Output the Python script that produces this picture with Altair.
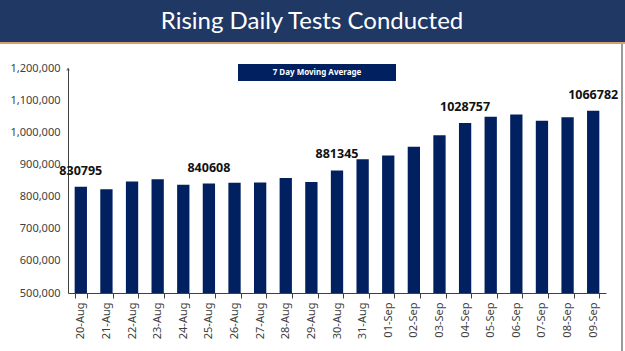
import altair as alt
import pandas as pd

dates = ["20-Aug", "21-Aug", "22-Aug", "23-Aug", "24-Aug", "25-Aug", "26-Aug",
         "27-Aug", "28-Aug", "29-Aug", "30-Aug", "31-Aug", "01-Sep", "02-Sep",
         "03-Sep", "04-Sep", "05-Sep", "06-Sep", "07-Sep", "08-Sep", "09-Sep"]
tests = [830795, 823000, 847000, 854000, 837000, 840608, 843000,
         844000, 858000, 845000, 881345, 916000, 928000, 955000,
         991000, 1028757, 1048000, 1055000, 1036000, 1047000, 1066782]
labelled = ["20-Aug", "25-Aug", "30-Aug", "04-Sep", "09-Sep"]
y_ticks = [500000, 600000, 700000, 800000, 900000, 1000000, 1100000, 1200000]

title_text = "Rising Daily Tests Conducted"
legend_text = "7 Day Moving Average"

df = pd.DataFrame({"date": dates, "tests": tests})
df["label"] = [str(v) if d in labelled else "" for d, v in zip(dates, tests)]

W, H = 538, 225
PL, PT = 68, 68

x = alt.X("date:N", sort=dates, title=None,
          scale=alt.Scale(paddingInner=0.52, paddingOuter=0.26),
          axis=alt.Axis(labelAngle=-90, labelFont="Noto Sans", labelFontSize=11,
                        labelColor="#404040", domainColor="#404040", tickColor="#404040",
                        tickBand="extent", tickSize=5, labelPadding=4, labelOverlap=False))
y = alt.Y("tests:Q", title=None,
          scale=alt.Scale(domain=[y_ticks[0], y_ticks[-1]], nice=False, zero=False),
          axis=alt.Axis(values=y_ticks, format=",d", grid=False, ticks=False,
                        labelFont="Noto Sans", labelOverlap=False,
                        labelFontSize=11, labelColor="#404040", domainColor="#404040",
                        labelPadding=8))

bars = alt.Chart(df).mark_bar(color="#002060").encode(
    x=x, y=y, y2=alt.datum(y_ticks[0]))

labels = alt.Chart(df).mark_text(font="Noto Sans", fontWeight="bold", fontSize=12.5,
                                 color="#111111", dy=-16, baseline="middle").encode(
    x=x, y=y, text="label:N")

one = alt.Data(values=[{"k": 1}])

banner = alt.Chart(one).mark_rect(color="#1f3864").encode(
    x=alt.value(-PL), x2=alt.value(625 - PL), y=alt.value(-PT), y2=alt.value(42 - PT))
stripe = alt.Chart(one).mark_rule(color="#d6a06a", strokeWidth=2).encode(
    x=alt.value(-PL), x2=alt.value(625 - PL), y=alt.value(43 - PT))
title = alt.Chart(one).mark_text(font="Lato", fontSize=24, color="white",
                                 baseline="middle", align="center").encode(
    x=alt.value(312 - PL), y=alt.value(22 - PT), text=alt.value(title_text))
legend_box = alt.Chart(one).mark_rect(color="#002060").encode(
    x=alt.value(238 - PL), x2=alt.value(396 - PL), y=alt.value(64 - PT), y2=alt.value(81 - PT))
legend_lbl = alt.Chart(one).mark_text(font="Noto Sans", fontWeight="bold", fontSize=8,
                                      color="white", baseline="middle", align="center").encode(
    x=alt.value(317 - PL), y=alt.value(72.5 - PT), text=alt.value(legend_text))
arrow = alt.Chart(one).mark_point(shape="triangle-up", filled=True, color="#404040", size=14).encode(
    x=alt.value(0), y=alt.value(1))
border = alt.Chart(one).mark_rule(color="#9a9a9a", strokeWidth=2).encode(
    x=alt.value(622 - PL), y=alt.value(44 - PT), y2=alt.value(351 - PT))

chart = alt.layer(banner, stripe, title, border, bars, labels, legend_box, legend_lbl, arrow).properties(
    width=W, height=H,
    autosize=alt.AutoSizeParams(type="none"),
    padding={"left": PL, "top": PT, "right": 625 - PL - W, "bottom": 351 - PT - H},
    background="white",
).configure_view(stroke=None)

chart.save("out.html", embed_options={"renderer": "svg", "actions": False})
